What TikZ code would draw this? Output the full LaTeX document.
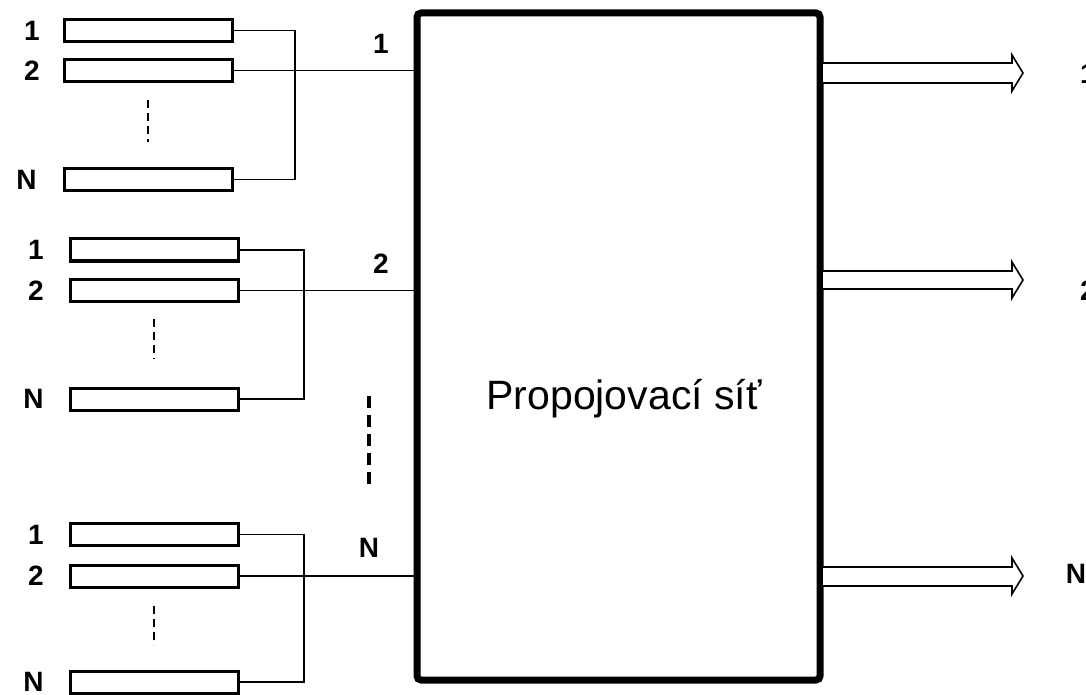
\documentclass[tikz,border=0pt]{standalone}
\usepackage{fontspec}
\setmainfont{Liberation Sans}
\usetikzlibrary{positioning}
\tikzset{
  cell/.style={draw, line width=1.5pt, minimum width=84pt, minimum height=11pt, inner sep=0pt},
  num/.style={font=\fontsize{14}{16}\selectfont\bfseries, inner sep=0pt},
  wire/.style={line width=0.6pt},
  gap/.style={line width=1pt, dash pattern=on 4pt off 2.5pt},
  outarrow/.style={line width=0.8pt, fill=white, line join=miter}
}

\begin{document}
\begin{tikzpicture}[x=0.5pt, y=-0.5pt]
    \useasboundingbox (0,0) rectangle (1086,695);
    \node[draw, line width=3.5pt, rounded corners=2pt, minimum width=201.5pt, minimum height=333.5pt] (net) at (618.5,346.5) {};
    \node[font=\fontsize{20.5}{24}\selectfont, anchor=base] (nettxt) at (624,409) {Propojovací síť};

    \node[cell] (g1a) at (148.5,30.5) {};
    \node[cell] (g1b) at (148.5,70.5) {};
    \node[cell] (g1n) at (148.5,179.5) {};
    \node[num, left=11.5pt of g1a] (l1a) {1};
    \node[num, left=11.5pt of g1b] (l1b) {2};
    \node[num, left=13pt of g1n] (l1n) {N};
    \draw[wire] (g1a.east) -- ++(61,0) |- (g1n.east);
    \draw[wire] (g1b.east) -- (g1b.east -| net.west);
    \draw[gap] (148,100) -- (148,142);
    \node[num] (in1) at (381,44) {1};

    \node[cell] (g2a) at (154.5,250) {};
    \node[cell] (g2b) at (154.5,290.5) {};
    \node[cell] (g2n) at (154.5,399) {};
    \node[num, left=12.5pt of g2a] (l2a) {1};
    \node[num, left=12.5pt of g2b] (l2b) {2};
    \node[num, left=12.5pt of g2n] (l2n) {N};
    \draw[wire] (g2a.east) -- ++(64,0) |- (g2n.east);
    \draw[wire] (g2b.east) -- (g2b.east -| net.west);
    \draw[gap] (154,319) -- (154,359);
    \node[num] (in2) at (381,264) {2};

    \node[cell] (g3a) at (154.5,534.5) {};
    \node[cell] (g3b) at (154.5,576) {};
    \node[cell] (g3n) at (154.5,682) {};
    \node[num, left=12.5pt of g3a] (l3a) {1};
    \node[num, left=12.5pt of g3b] (l3b) {2};
    \node[num, left=12.5pt of g3n] (l3n) {N};
    \draw[wire] (g3a.east) -- ++(64,0) |- (g3n.east);
    \draw[wire] (g3b.east) -- (g3b.east -| net.west);
    \draw[gap] (154,606) -- (154,645);
    \node[num] (inn) at (369,548) {N};

    \draw[line width=2pt, dash pattern=on 6pt off 3.5pt] (369,396) -- (369,484);

    \draw[outarrow] (823,63) -- (1012,63) -- (1012,55) -- (1023,73) -- (1012,91) -- (1012,83) -- (823,83);
    \draw[outarrow] (823,271) -- (1012,271) -- (1012,262) -- (1023,280) -- (1012,298) -- (1012,289) -- (823,289);
    \draw[outarrow] (823,567) -- (1012,567) -- (1012,558) -- (1023,576) -- (1012,594) -- (1012,586) -- (823,586);
    \node[num] (out1) at (1088,74) {1};
    \node[num] (out2) at (1088,291) {2};
    \node[num] (outn) at (1076,574) {N};
\end{tikzpicture}
\end{document}
